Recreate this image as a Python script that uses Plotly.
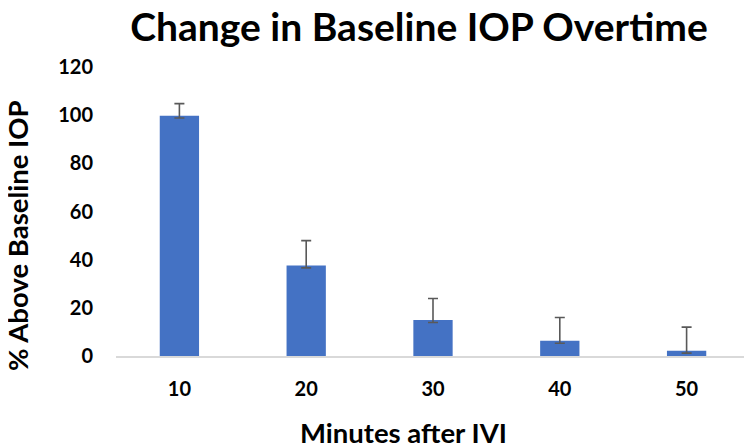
import plotly.graph_objects as go

categories = ["10", "20", "30", "40", "50"]
values = [99.8, 37.6, 14.9, 6.3, 2.2]
err_plus = [5.0, 10.3, 9.0, 9.7, 9.8]
err_minus = [1.0, 1.0, 1.0, 1.0, 1.0]
y_ticks = [0, 20, 40, 60, 80, 100, 120]

FONT = "Lato"
# page has an 8px body margin, so the figure is sized/positioned to compensate
W, H = 744, 440
ML, MR, MT, MB = 108, 2, 59, 92
PW, PH = W - ML - MR, H - MT - MB

fig = go.Figure(go.Bar(
    x=categories, y=values,
    marker=dict(color="#4472C4", line=dict(width=0)),
    width=0.31,
    error_y=dict(type="data", array=err_plus, arrayminus=err_minus,
                 symmetric=False, color="#595959", thickness=1.6, width=5),
))

fig.update_layout(
    width=W, height=H,
    paper_bgcolor="white", plot_bgcolor="white",
    margin=dict(l=ML, r=MR, t=MT, b=MB, autoexpand=False),
    showlegend=False,
    title=dict(text="<b>Change in Baseline IOP Overtime</b>",
               font=dict(family=FONT, size=39, color="#000000"),
               x=411 / W, xanchor="center", y=1 - 19 / H, yanchor="middle"),
    font=dict(family=FONT, color="#000000"),
    annotations=[
        dict(text="<b>Minutes after IVI</b>", xref="paper", yref="paper",
             x=(395 - ML) / PW, y=-(425 - (H - MB)) / PH,
             xanchor="center", yanchor="middle", showarrow=False,
             font=dict(family=FONT, size=27.5, color="#000000")),
        dict(text="<b>% Above Baseline IOP</b>", xref="paper", yref="paper",
             x=-(ML - 9) / PW, y=((H - MB) - 228) / PH,
             xanchor="center", yanchor="middle", showarrow=False, textangle=-90,
             font=dict(family=FONT, size=27.5, color="#000000")),
    ],
)

fig.update_xaxes(
    type="category", showgrid=False, showline=True, linecolor="#D9D9D9", linewidth=1.5,
    ticks="", tickfont=dict(family=FONT, size=20, color="#000000", weight="bold"),
    ticklabelstandoff=14, automargin=False,
)
fig.update_yaxes(
    range=[0, 120], tickvals=y_ticks, showgrid=False, zeroline=False, showline=False,
    ticks="", tickfont=dict(family=FONT, size=20, color="#000000", weight="bold"),
    ticklabelstandoff=22, automargin=False,
)

fig.write_html("out.html")
